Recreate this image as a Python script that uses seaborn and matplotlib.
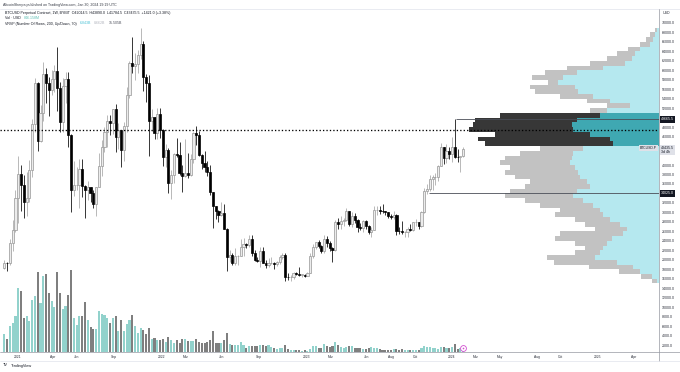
import numpy as np
import pandas as pd
import matplotlib
matplotlib.use("Agg")
import matplotlib.pyplot as plt
import matplotlib.dates as mdates
from matplotlib.lines import Line2D
from matplotlib.transforms import blended_transform_factory, offset_copy
import seaborn as sns

# BTCUSD perpetual (BYBIT), weekly candles, first week opens 2020-11-30
first_week = "2020-11-30"
opens = [18180, 19360, 19270, 23480, 26270,
         33000, 38150, 35800, 32250, 33100, 38900, 48600, 57400, 45100, 51000, 59200, 57400, 55800,
         58200, 59800, 56200, 49100, 56600, 58200, 46400, 34700, 35700, 35800, 39100, 35500, 34700,
         35300, 34200, 31800, 35400, 39900, 43800, 47000, 49300, 48800, 51800, 46000, 47300, 43200,
         48200, 54700, 61500, 60900, 61300, 63300, 65500, 58700, 57300, 49400, 50100, 46700, 50800,
         47300, 41800, 43100, 36300, 37900, 42400, 42200, 38300, 37700, 38400, 37800, 41300, 46800,
         46400, 42200, 40400, 39500, 38500, 34300, 31300, 30300, 29400, 29900, 26600, 20600, 21000,
         19300, 20800, 20850, 22600, 23300, 23200, 24300, 21500, 20000, 19800, 21800, 19400, 18800,
         19300, 19400, 19200, 19600, 20600, 21000, 16300, 16280, 16400, 17100, 17090, 16800, 16840,
         16600, 17100, 20900, 22700, 23750, 22900, 21800, 24300, 23500, 22400, 22100, 27900, 27500,
         28200, 28300, 30300, 27600, 29200, 28400, 26900, 26800, 28100, 27100, 25900, 26300, 30500,
         30600, 30300, 30250, 30100, 29300, 29100, 29400, 26100, 26000, 25800, 25850, 26500, 26200,
         27900, 27950, 27100, 30000, 34500, 35000, 37100, 37400, 37500, 39900, 43800, 41400, 43000,
         42300, 43900, 41700, 41600, 42014.5]
highs = [19920, 19450, 24300, 28400, 34800,
         41950, 40100, 37850, 38500, 41000, 49700, 58350, 57500, 52600, 61700, 60600, 58500, 60000,
         61200, 64850, 57500, 58400, 59600, 59600, 46600, 40900, 39500, 41300, 41300, 35800, 36600,
         35400, 34700, 35400, 42600, 45300, 48100, 50500, 50500, 51900, 52900, 48800, 47400, 49000,
         56500, 62000, 67000, 63700, 64300, 69000, 66300, 59300, 59000, 51900, 50200, 52000, 52100,
         47600, 44400, 43500, 38900, 42600, 45800, 44800, 40000, 45400, 42600, 42400, 47000, 48200,
         47200, 42400, 42900, 40800, 40000, 34300, 31300, 30600, 32200, 31700, 26800, 22000, 21500,
         22500, 21000, 24300, 24700, 23600, 25200, 25200, 22000, 20600, 22800, 22800, 19900, 20400,
         20500, 19600, 19700, 21000, 21500, 21500, 17200, 16800, 17400, 17400, 18400, 17000, 16900,
         17400, 21400, 23300, 23800, 24200, 23200, 25200, 25100, 23900, 22600, 28400, 28900, 29200,
         28900, 31000, 30300, 30000, 29800, 28600, 27700, 28300, 28400, 27400, 27000, 31400, 31300,
         31400, 31800, 30400, 30100, 29700, 30200, 29700, 26900, 28100, 26100, 26900, 27500, 28000,
         28600, 27950, 30400, 35200, 35900, 37900, 37900, 38400, 40000, 44700, 43800, 44400, 43800,
         45900, 49665.5, 43300, 41800, 43890]
lows = [18010, 17600, 19000, 21800, 25900,
        27700, 30300, 28800, 29200, 32300, 37400, 47000, 43000, 44900, 49300, 53200, 50400, 54700,
        55500, 51500, 47000, 47000, 53000, 43800, 30000, 33400, 34800, 31000, 33300, 28800, 32700,
        32100, 31000, 29300, 35300, 37600, 42800, 43900, 46300, 46500, 42800, 43400, 39600, 40800,
        46900, 54200, 59500, 58000, 59400, 62300, 55600, 53300, 42000, 47100, 45600, 45600, 45700,
        39700, 39600, 34000, 32900, 36300, 41700, 38000, 34300, 37400, 37200, 37600, 40500, 44200,
        41900, 39200, 38600, 37700, 33700, 26700, 28700, 28000, 29300, 26600, 17600, 19600, 18800,
        19000, 18900, 20700, 20700, 22400, 22700, 20800, 19800, 19500, 18500, 19300, 18200, 18500,
        19100, 18100, 18700, 19200, 20100, 15600, 15800, 15500, 16000, 16700, 16600, 16300, 16300,
        16500, 17100, 20400, 22300, 22500, 21400, 21400, 22800, 21900, 19600, 21900, 26600, 26500,
        27200, 28200, 27200, 26900, 27700, 25900, 26300, 25900, 26600, 25400, 24800, 26300, 29500,
        29700, 29900, 29500, 28900, 28600, 28700, 25200, 25400, 25400, 24900, 24900, 26000, 26000,
        27100, 26500, 27000, 29900, 33900, 34500, 34800, 35700, 36700, 39900, 40200, 40500, 41300,
        40700, 41500, 40600, 38500, 41784.5]
closes = [19360, 19270, 23480, 26270, 33000,
          38150, 35800, 32250, 33100, 38900, 48600, 57400, 45100, 51000, 59200, 57400, 55800, 58200,
          59800, 56200, 49100, 56600, 58200, 46400, 34700, 35700, 35800, 39100, 35500, 34700, 35300,
          34200, 31800, 35400, 39900, 43800, 47000, 49300, 48800, 51800, 46000, 47300, 43200, 48200,
          54700, 61500, 60900, 61300, 63300, 65500, 58700, 57300, 49400, 50100, 46700, 50800, 47300,
          41800, 43100, 36300, 37900, 42400, 42200, 38300, 37700, 38400, 37800, 41300, 46800, 46400,
          42200, 40400, 39500, 38500, 34300, 31300, 30300, 29400, 29900, 26600, 20600, 21000, 19300,
          20800, 20850, 22600, 23300, 23200, 24300, 21500, 20000, 19800, 21800, 19400, 18800, 19300,
          19400, 19200, 19600, 20600, 21000, 16300, 16280, 16400, 17100, 17090, 16800, 16840, 16600,
          17100, 20900, 22700, 23750, 22900, 21800, 24300, 23500, 22400, 22100, 27900, 27500, 28200,
          28300, 30300, 27600, 29200, 28400, 26900, 26800, 28100, 27100, 25900, 26300, 30500, 30600,
          30300, 30250, 30100, 29300, 29100, 29400, 26100, 26000, 25800, 25850, 26500, 26200, 27900,
          27950, 27100, 30000, 34500, 35000, 37100, 37400, 37500, 39900, 43800, 41400, 43000, 42300,
          43900, 41700, 41600, 42000, 43435.5]
# weekly volume, billion USD
volume = [18, 13, 26, 29, 36,
          64, 61, 34, 36, 31, 52, 56, 80, 49, 76, 78, 59, 51, 45, 80, 59, 43, 46, 57, 82, 34, 27,
          36, 36, 50, 32, 25, 23, 23, 41, 38, 37, 34, 29, 34, 36, 21, 32, 21, 28, 32, 37, 26, 19,
          24, 22, 18, 24, 13, 14, 12, 12,
          13, 10, 15, 12, 9, 12, 9, 13, 13, 11, 11, 11, 13, 10, 9, 9, 10, 12, 21, 9, 9, 9, 12, 19,
          8, 7, 7, 7, 10, 7, 4, 6, 6, 6, 6, 7, 7, 6, 7, 5, 4, 3, 4, 4, 7, 3, 2, 2, 2, 2, 1, 2,
          1, 3, 6, 6, 4, 4, 8, 6, 5, 6, 10, 7, 5, 4, 5, 6, 6, 4, 4, 4, 3, 3, 4, 5, 4, 4, 3, 2,
          2, 2, 2, 3, 3, 2, 3, 2, 2, 2, 2, 2, 2, 4, 6, 5, 5, 4, 4, 3, 5, 5, 4, 4,
          5, 8, 3, 4, 0.85]

# visible range volume profile (rows of 1000 USD from 15000), relative volume
vp_start = 15000
vp_row = 1000
vp_up = [2, 7, 19, 26, 42, 64, 59, 56, 52, 47, 36, 32, 39, 49, 56, 59, 66, 76, 86, 82,
         69, 72, 79, 81, 84, 89, 87, 86, 76, 46, 49, 69, 86, 87, 82, 59, 52, 29, 49, 66,
         81, 84, 101, 96, 82, 56, 34, 27, 24, 19, 9, 6, 4, 2]
vp_down = [5, 11, 21, 44, 63, 48, 25, 18, 32, 57, 63, 32, 35, 35, 48, 40, 53, 58, 68, 67,
           65, 57, 65, 73, 65, 70, 67, 53, 43, 128, 132, 95, 104, 99, 102, 100, 17, 23, 23, 33,
           43, 45, 10, 31, 32, 36, 35, 25, 18, 12, 10, 7, 5, 2]
va_low, va_high = 44000, 51000

level_high, level_high_from = 49665.5, "2024-01-11"
level_low, level_low_from = 34025.0, "2023-11-03"

price_ticks = list(range(2000, 70001, 2000))
tick_dates = ["2021-01-01", "2021-04-01", "2021-06-01", "2021-09-01", "2022-01-01", "2022-03-01",
              "2022-06-01", "2022-09-01", "2023-01-01", "2023-03-01", "2023-06-01", "2023-08-01",
              "2023-10-01", "2024-01-01", "2024-03-01", "2024-05-01", "2024-08-01", "2024-10-01",
              "2025-01-01", "2025-04-01"]
tick_labels = ["2021", "Apr", "Jun", "Sep", "2022", "Mar", "Jun", "Sep", "2023", "Mar", "Jun",
               "Aug", "Oct", "2024", "Mar", "May", "Aug", "Oct", "2025", "Apr"]

sns.set_theme(style="white")
plt.rcParams["font.family"] = ["Liberation Sans", "DejaVu Sans"]

W, H = 680, 372
fig = plt.figure(figsize=(W / 100, H / 100), dpi=100)
fig.patch.set_facecolor("white")


def fx(px):
    return px / W


def fy(py):
    return 1 - py / H


pos = [0, fy(352), fx(659), (352 - 9) / H]
ylim = (522, 72956)
px_per_usd = 343 / (ylim[1] - ylim[0])
xlim = mdates.date2num(pd.to_datetime(["2020-11-19", "2025-06-05"]))

axp = fig.add_axes(pos, zorder=1)
axv = fig.add_axes(pos, zorder=2)
ax = fig.add_axes(pos, zorder=3)
for a in (axp, axv, ax):
    a.patch.set_visible(False)
    for s in a.spines.values():
        s.set_visible(False)

# candles
weeks = pd.date_range(first_week, periods=len(closes), freq="7D")
x = mdates.date2num(weeks)
o, h, l, c = (np.array(v, dtype=float) for v in (opens, highs, lows, closes))
up = c >= o
ax.vlines(x, l, h, colors=np.where(up, "#a6a6a6", "#000000"), linewidth=0.55, zorder=2)
ax.bar(x, np.maximum(np.abs(c - o), 100), bottom=np.minimum(o, c), width=5.4,
       color=np.where(up, "#ececec", "black"), edgecolor=np.where(up, "#969696", "black"),
       linewidth=0.5, zorder=3)

# volume
vol_df = pd.DataFrame({"x": x, "vol": volume, "dir": np.where(up, "up", "down")})
sns.histplot(data=vol_df, x="x", weights="vol", hue="dir", binwidth=7,
             binrange=(x[0] - 3.5, x[-1] + 3.5), shrink=0.75, multiple="layer",
             palette={"up": "#92d2cc", "down": "#7f7f7f"}, alpha=1,
             linewidth=0, legend=False, ax=axv)
axv.set_ylim(0, 343)
axv.set_xlim(xlim)
axv.plot(x[-1], 4.5, marker="o", ms=4.2, mfc="white", mec="#d24fd0", mew=0.6, zorder=5)
axv.plot(x[-1], 4.5, marker="o", ms=1.2, mfc="#d24fd0", mec="none", zorder=6)
axv.set_axis_off()

# volume profile
rows = vp_start + vp_row * (np.arange(len(vp_up)) + 0.5)
total = np.add(vp_up, vp_down)
in_va = (rows > va_low) & (rows < va_high)
axp.barh(rows, vp_up, height=vp_row, left=0,
         color=np.where(in_va, "#3fa8b2", "#b5e8ef"), linewidth=0)
axp.barh(rows, vp_down, height=vp_row, left=vp_up,
         color=np.where(in_va, "#373737", "#c2c2c2"), linewidth=0)
axp.set_xlim(total.max() / 0.288, 0)
axp.set_ylim(ylim)
axp.set_axis_off()
poc = rows[np.argmax(total)]

ax.axhline(poc, color="black", lw=0.95, linestyle=(0, (1, 1.6)), zorder=5)
ax.hlines(level_high, mdates.datestr2num(level_high_from), xlim[1], color="#4a4d57", lw=0.6, zorder=4)
ax.hlines(level_low, mdates.datestr2num(level_low_from), xlim[1], color="#4a4d57", lw=0.6, zorder=4)

# price scale: labels hidden where a highlighted price label sits on top
boxes = [(level_high, 0, 4.5), (level_low, 0, 4.5), (closes[-1], 2.5, 6.5)]
ticklabels = []
for t in price_ticks:
    hidden = any(abs((t - p) * px_per_usd + shift) < half + 2.5 for p, shift, half in boxes)
    ticklabels.append("" if hidden else f"{t:.1f}")

ax.set_xlim(xlim)
ax.set_ylim(ylim)
ax.yaxis.tick_right()
ax.set_yticks(price_ticks)
ax.set_yticklabels(ticklabels)
ax.set_xticks(mdates.date2num(pd.to_datetime(tick_dates)))
ax.set_xticklabels(tick_labels)
ax.tick_params(axis="y", length=0, pad=2.0, labelsize=2.6, labelcolor="#2a2e39")
ax.tick_params(axis="x", length=0, pad=2.2, labelsize=2.4, labelcolor="#2a2e39")
ax.grid(False)

trans = blended_transform_factory(ax.transAxes, ax.transData)
trans_up = offset_copy(trans, fig=fig, y=3, units="dots")
box = dict(boxstyle="square,pad=0.35", ec="none")
ax.text(1.003, level_high, f"{level_high:.1f}", transform=trans, ha="left", va="center",
        fontsize=2.6, color="white", bbox=dict(box, fc="#131722"), clip_on=False, zorder=10)
ax.text(1.003, level_low, f"{level_low:.1f}", transform=trans, ha="left", va="center",
        fontsize=2.6, color="white", bbox=dict(box, fc="#131722"), clip_on=False, zorder=10)
ax.text(1.003, closes[-1], f"{closes[-1]:.1f}\n3d 4h", transform=trans_up, ha="left", va="top",
        fontsize=2.6, color="#131722", linespacing=1.1, bbox=dict(box, fc="#dfe1e8"),
        clip_on=False, zorder=10)
ax.text(0.997, closes[-1], "BTCUSD.P", transform=trans_up, ha="right", va="top",
        fontsize=2.4, color="#131722", bbox=dict(box, fc="#dfe1e8"), zorder=10)

# frame lines
for x0, y0, x1, y1, col in [(0, 9, 680, 9, "#e0e3eb"), (0, 352, 680, 352, "#9598a1"),
                            (659, 9, 659, 361, "#9598a1"), (0, 361, 680, 361, "#e0e3eb")]:
    fig.add_artist(Line2D([fx(x0), fx(x1)], [fy(y0), fy(y1)], color=col, lw=0.5))

# texts
renderer = fig.canvas.get_renderer()


def chain(parts, px, py, size):
    xpos = fx(px)
    for s, col in parts:
        t = fig.text(xpos, fy(py), s, fontsize=size, color=col, ha="left", va="center")
        bb = t.get_window_extent(renderer)
        xpos = (bb.x1 + 3) / W


fig.text(fx(3), fy(4.8), "AltcoinSherpa published on TradingView.com, Jan 30, 2024 19:19 UTC",
         fontsize=2.6, color="#363a45", ha="left", va="center")
chain([("BTCUSD Perpetual Contract, 1W, BYBIT  O42014.5  H43890.0  L41784.5  C43435.5  +1421.0 (+3.38%)",
        "#131722")], 5, 12.8, 2.6)
chain([("Vol · USD", "#131722"), ("846.158M", "#5fc0b5")], 5, 18.2, 2.6)
chain([("VRVP (Number Of Rows, 200, Up/Down, 70)", "#131722"), ("6.843B", "#4ec3d6"),
       ("8.662B", "#b2b5be"), ("15.505B", "#50535e")], 5, 23.5, 2.6)
fig.text(fx(663), fy(13.5), "USD", fontsize=2.6, color="#2a2e39", ha="left", va="center")
chain([("TV", "#131722"), ("TradingView", "#131722")], 3, 365.5, 2.8)

fig.savefig("out.png", dpi=100, facecolor="white")
